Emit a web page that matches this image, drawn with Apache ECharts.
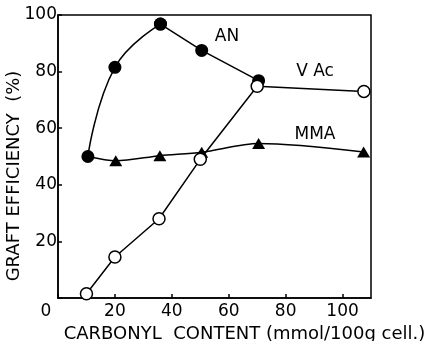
<!DOCTYPE html>
<html>
<head>
<meta charset="utf-8">
<script src="https://cdn.jsdelivr.net/npm/echarts@6/dist/echarts.min.js"></script>
<style>
  html, body { margin: 0; padding: 0; background: #fff; }
  #chart { width: 428px; height: 341px; }
</style>
</head>
<body>
<div id="chart"></div>
<script>
// Graft efficiency vs. carbonyl content of the cellulose, per monomer
const anX = [10.5, 20, 36, 50.5, 70.5];
const anY = [50, 81.5, 96.8, 87.5, 76.8];

const vacX = [10, 20, 35.5, 50, 70, 107.5];
const vacY = [1.5, 14.5, 28, 49, 74.8, 73];

// MMA line starts from the shared point at the lowest carbonyl content
const mmaX = [10.5, 20.3, 35.8, 50.5, 70.5, 107.4];
const mmaY = [50, 48.5, 50.3, 51.5, 54.6, 51.6];

const xTicks = { min: 0, max: 110, interval: 20 };
const yTicks = { min: 0, max: 100, interval: 20 };

const FONT = 'DejaVu Sans';
const INK = '#000';

const pairs = (xs, ys) => xs.map((x, i) => [x, ys[i]]);

const chart = echarts.init(document.getElementById('chart'), null, { renderer: 'canvas' });

const axisCommon = {
  type: 'value',
  axisLine: { show: true, lineStyle: { color: INK, width: 1.5 } },
  axisTick: { show: true, inside: true, length: 4, lineStyle: { color: INK, width: 1.5 } },
  splitLine: { show: false }
};

const lineStyle = { color: INK, width: 1.5 };

// AN: curved rise up to the maximum, then straight segments
const anPts = pairs(anX, anY);
const anRise = anPts.slice(0, 3);
const anFall = anPts.slice(2);

const option = {
  animation: false,
  backgroundColor: '#fff',
  grid: {
    left: 58, top: 15, right: 57, bottom: 43,
    outerBoundsMode: 'none', containLabel: false,
    show: true, borderColor: INK, borderWidth: 1.5
  },
  xAxis: Object.assign({}, axisCommon, {
    min: xTicks.min, max: xTicks.max, interval: xTicks.interval,
    axisLabel: {
      showMaxLabel: false, color: INK, fontFamily: FONT, fontSize: 17, margin: 5,
      formatter: v => v === 0 ? '{z|0}' : String(v),
      rich: { z: { fontFamily: FONT, fontSize: 17, color: INK, padding: [0, 24, 0, 0] } }
    },
    name: 'CARBONYL  CONTENT (mmol/100g cell.)',
    nameLocation: 'middle', nameGap: 26,
    nameTextStyle: { color: INK, fontFamily: FONT, fontSize: 18, padding: [0, 0, 0, 60] }
  }),
  yAxis: Object.assign({}, axisCommon, {
    min: yTicks.min, max: yTicks.max, interval: yTicks.interval,
    axisLabel: {
      color: INK, fontFamily: FONT, fontSize: 17, margin: 1,
      formatter: v => v === 0 ? '' : String(v)
    }
  }),
  series: [
    {
      name: 'MMA', type: 'line', smooth: 0.3,
      data: pairs(mmaX, mmaY).map((p, i) => i === 0 ? { value: p, symbol: 'none' } : p),
      symbol: 'triangle', symbolSize: [13, 11],
      itemStyle: { color: INK },
      lineStyle: lineStyle, z: 2
    },
    {
      name: 'VAc', type: 'line',
      data: pairs(vacX, vacY),
      symbol: 'circle', symbolSize: 12,
      itemStyle: { color: '#fff', borderColor: INK, borderWidth: 1.5 },
      lineStyle: lineStyle, z: 4
    },
    {
      name: 'AN', type: 'line', smooth: 0.45,
      data: anRise,
      symbol: 'circle', symbolSize: 13,
      itemStyle: { color: INK },
      lineStyle: lineStyle, z: 3
    },
    {
      name: 'AN', type: 'line',
      data: anFall,
      symbol: 'circle', symbolSize: 13,
      itemStyle: { color: INK },
      lineStyle: lineStyle, z: 3
    }
  ],
  graphic: [
    // y-axis title, reading bottom to top
    { type: 'text', x: 14, y: 176, rotation: Math.PI / 2,
      style: { text: 'GRAFT EFFICIENCY  (%)', fill: INK, font: '18px "DejaVu Sans"', align: 'center', verticalAlign: 'middle' } },
    { type: 'text', x: 227, y: 37, style: { text: 'AN', fill: INK, font: '17px "DejaVu Sans"', align: 'center', verticalAlign: 'middle' } },
    { type: 'text', x: 315, y: 72, style: { text: 'V Ac', fill: INK, font: '17px "DejaVu Sans"', align: 'center', verticalAlign: 'middle' } },
    { type: 'text', x: 315, y: 135, style: { text: 'MMA', fill: INK, font: '17px "DejaVu Sans"', align: 'center', verticalAlign: 'middle' } }
  ]
};

chart.setOption(option);
</script>
</body>
</html>
